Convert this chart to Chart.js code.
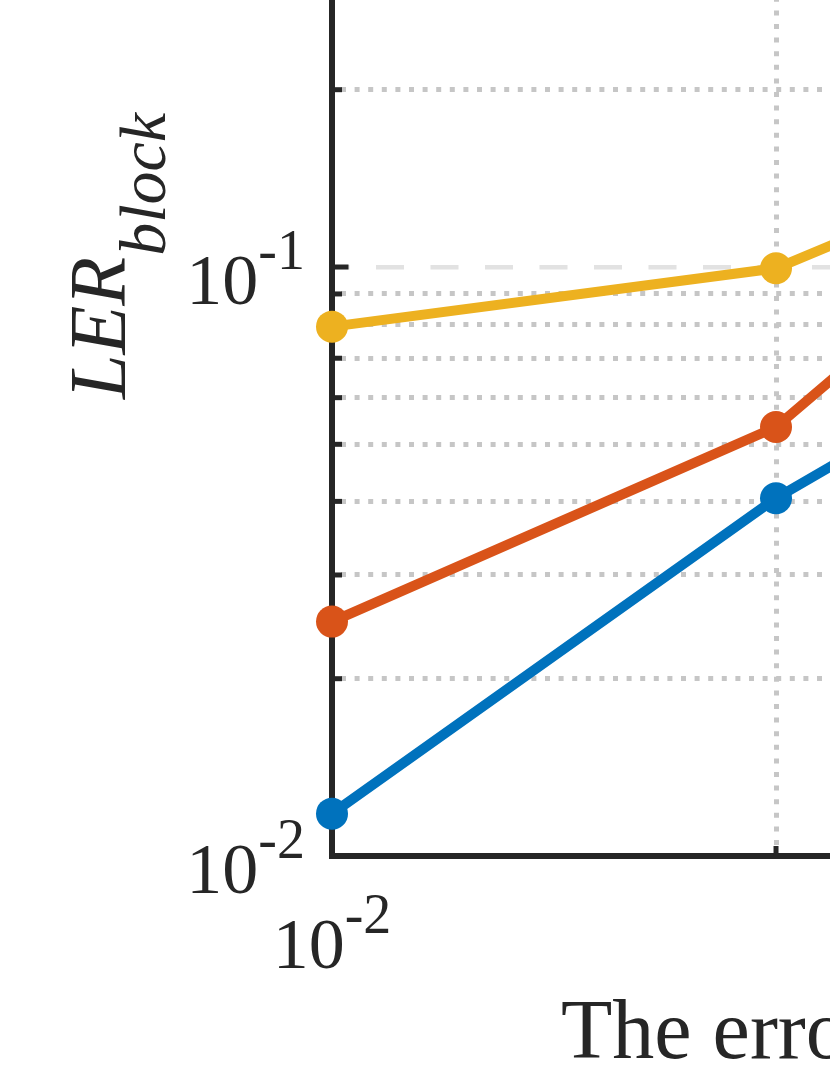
<!DOCTYPE html>
<html><head><meta charset="utf-8">
<script src="https://cdn.jsdelivr.net/npm/chart.js@4.4.1/dist/chart.umd.min.js"></script>
<style>
html,body{margin:0;padding:0;overflow:hidden;background:#fff;width:830px;height:1075px;}
#wrap{position:relative;width:830px;height:1075px;overflow:hidden;background:#fff;}
#c{position:absolute;left:0;top:-400px;}
</style></head><body>
<div id="wrap"><canvas id="c" width="1900" height="1475"></canvas></div>
<script>
// ---- data ----
const errorRates = [0.01, 0.02, 0.03];
const lerBlue    = [0.0118, 0.0405, 0.073];
const lerOrange  = [0.0250, 0.0535, 0.127];
const lerYellow  = [0.0792, 0.0995, 0.152];
const seriesNames = ['Series 1', 'Series 2', 'Series 3'];
const seriesColors = ['#0072BD', '#D95319', '#EDB120'];
const xTickValues = [0.01,0.02,0.03,0.04,0.05,0.06,0.07,0.08,0.09,0.1];
const yTickValues = [0.01,0.02,0.03,0.04,0.05,0.06,0.07,0.08,0.09,0.1,0.2,0.3,0.4,0.5,0.6,0.7,0.8,0.9,1];
const xTitle = 'The error rate of physical qubits';
const yTitleMain = 'LER';
const yTitleSub = 'block';

const FONT = '"Liberation Serif", "Times New Roman", serif';
const INK = '#262626';
const isMajor = v => Math.abs(Math.log10(v) - Math.round(Math.log10(v))) < 1e-9;
const toTicks = arr => arr.map(v => ({value: v, major: isMajor(v)}));

const gridColor = c => (c.tick && c.tick.major) ? '#e2e2e2' : '#c6c6c6';
const gridDash = c => (c.tick && c.tick.major) ? [28, 26.5] : [5, 8.6];
const gridDashOff = c => (c.tick && c.tick.major) ? 13.5 : 7.6;

function pow10(ctx, exp, x, base, align) {
  ctx.font = '72px ' + FONT; const wb = ctx.measureText('10').width;
  ctx.font = '56px ' + FONT; const ws = ctx.measureText(exp).width;
  const total = wb + ws;
  const x0 = align === 'right' ? x - total : x - total / 2;
  ctx.textAlign = 'left'; ctx.textBaseline = 'alphabetic';
  ctx.font = '72px ' + FONT; ctx.fillText('10', x0, base);
  ctx.font = '56px ' + FONT; ctx.fillText(exp, x0 + wb, base - 35);
}

const decor = {
  id: 'decor',
  beforeDatasetsDraw(chart) {
    const {ctx, chartArea: a, scales: {x, y}} = chart;
    ctx.save();
    ctx.strokeStyle = INK; ctx.lineWidth = 5; ctx.lineCap = 'butt'; ctx.setLineDash([]);
    y.ticks.forEach(t => {
      const py = y.getPixelForValue(t.value);
      const len = t.major ? 16.5 : 10;
      ctx.beginPath(); ctx.moveTo(a.left, py); ctx.lineTo(a.left + len, py); ctx.stroke();
    });
    x.ticks.forEach(t => {
      const px = x.getPixelForValue(t.value);
      const len = t.major ? 16.5 : 10;
      ctx.beginPath(); ctx.moveTo(px, a.bottom); ctx.lineTo(px, a.bottom - len); ctx.stroke();
    });
    ctx.restore();
  },
  afterDraw(chart) {
    const {ctx, chartArea: a, scales: {x, y}} = chart;
    ctx.save();
    ctx.fillStyle = INK;
    y.ticks.filter(t => t.major).forEach(t => {
      const e = String(Math.round(Math.log10(t.value)));
      pow10(ctx, e, a.left - 27, y.getPixelForValue(t.value) + 37, 'right');
    });
    x.ticks.filter(t => t.major).forEach(t => {
      const e = String(Math.round(Math.log10(t.value)));
      pow10(ctx, e, x.getPixelForValue(t.value), a.bottom + 112, 'center');
    });
    // x title
    ctx.font = '84px ' + FONT; ctx.textAlign = 'left'; ctx.textBaseline = 'alphabetic';
    ctx.fillText(xTitle, a.left + 229, a.bottom + 202);
    // y title (rotated, with subscript)
    ctx.translate(a.left - 207, a.bottom - 457);
    ctx.rotate(-Math.PI / 2);
    ctx.font = 'italic 80px ' + FONT;
    ctx.fillText(yTitleMain, 0, 0);
    const w = ctx.measureText(yTitleMain).width;
    ctx.font = 'italic 66px ' + FONT;
    ctx.fillText(yTitleSub, w + 1, 40);
    ctx.restore();
  }
};

const seriesValues = [lerBlue, lerOrange, lerYellow];
const datasets = seriesValues.map((vals, i) => ({
  label: seriesNames[i],
  data: errorRates.map((xv, j) => ({x: xv, y: vals[j]})),
  borderColor: seriesColors[i],
  backgroundColor: seriesColors[i],
  pointBackgroundColor: seriesColors[i],
  pointBorderColor: seriesColors[i],
  borderWidth: 10,
  pointRadius: 16,
  pointBorderWidth: 0,
  pointHoverRadius: 16,
  tension: 0,
  clip: false,
  order: 3 - i
}));

function axisCommon() {
  return {
    type: 'logarithmic',
    ticks: {display: false},
    title: {display: false},
    grid: {color: gridColor, lineWidth: c => (c.tick && c.tick.major) ? 4.5 : 5, drawTicks: false, tickLength: 0},
    border: {display: true, color: INK, width: 6, dash: gridDash, dashOffset: gridDashOff}
  };
}

const xAxis = Object.assign(axisCommon(), {
  min: 0.01, max: 0.1,
  afterBuildTicks: s => { s.ticks = toTicks(xTickValues); },
  afterFit: s => { s.height = 219; }
});
const yAxis = Object.assign(axisCommon(), {
  min: 0.01, max: 1,
  afterBuildTicks: s => { s.ticks = toTicks(yTickValues); },
  afterFit: s => { s.width = 332; }
});

new Chart(document.getElementById('c'), {
  type: 'line',
  data: {datasets},
  options: {
    responsive: false,
    devicePixelRatio: 1,
    animation: false,
    layout: {padding: {top: 78, right: 93, left: 0, bottom: 0}, autoPadding: false},
    plugins: {legend: {display: false}, tooltip: {enabled: false}},
    scales: {x: xAxis, y: yAxis}
  },
  plugins: [decor]
});
</script>
</body></html>
